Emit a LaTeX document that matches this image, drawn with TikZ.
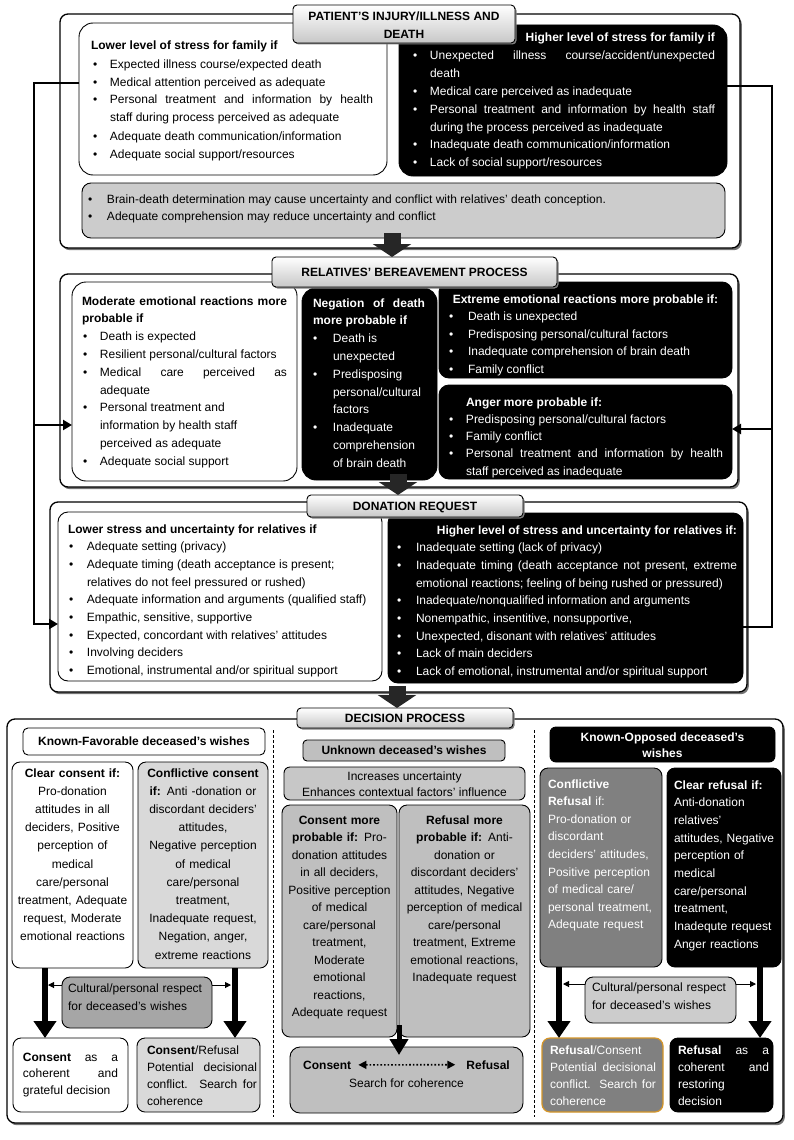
\documentclass[tikz,border=0pt]{standalone}
\usepackage{fontspec}
\setmainfont{Liberation Sans}
\usetikzlibrary{arrows.meta,shadows,calc}
\setlength{\parindent}{0pt}
\newlength\bhang \newlength\boff
\newcommand{\bli}[1]{\hangindent=\bhang\hangafter=1\noindent\makebox[\bhang][l]{\hspace{\boff}\textbullet}#1\par}
\newcommand{\ST}{\rule{0pt}{9pt}}
\newcommand{\bset}[2]{\setlength\boff{#1pt}\setlength\bhang{#2pt}}
\newcommand{\boxat}[7]{%
  \pgfmathsetmacro{\bxw}{#5-#3}%
  \pgfmathsetmacro{\bxh}{#6-#4}%
  \node[#1, anchor=north west, minimum width=\bxw pt, minimum height=\bxh pt, inner sep=0pt, outer sep=0pt] (#2) at (#3,#4) {#7};}
\definecolor{orangeb}{RGB}{214,150,40}
\tikzset{
  fs/.style={font=\fontsize{12}{#1}\selectfont},
  frame/.style={draw, line width=1.3pt, fill=white, rounded corners=8pt,
    drop shadow={shadow xshift=1.8pt, shadow yshift=-2.2pt, fill=black!55, opacity=1}},
  tab/.style={draw, line width=0.9pt, rounded corners=4pt, top color=white, bottom color=black!22,
    drop shadow={shadow xshift=1.5pt, shadow yshift=-1.5pt, fill=black!50, opacity=1}},
  rb/.style={draw, line width=0.9pt, rounded corners=#1},
  rb/.default=10pt,
  txt/.style={inner sep=0pt, outer sep=0pt, anchor=north west, align=justify, fs=18},
  ltxt/.style={inner sep=0pt, outer sep=0pt, anchor=north west, align=left, fs=18},
  ctxt/.style={inner sep=0pt, outer sep=0pt, anchor=north, align=center, fs=18},
  wt/.style={text=white},
  blk/.style={line width=17pt, draw=black!85, -{Triangle[width=38pt,length=13pt]}},
  thk/.style={line width=6pt, -{Triangle[width=22pt,length=17pt]}},
  sm/.style={line width=1pt, -{Triangle[width=6pt,length=6pt]}},
  fb/.style={line width=2.6pt},
  fba/.style={fb, -{Triangle[width=10pt,length=9pt]}}
}
\begin{document}
\begin{tikzpicture}[x=1pt,y=-1pt]
\useasboundingbox (0,0) rectangle (794,1140);
\fill[white] (0,0) rectangle (794,1140);

% ---------------- Section 1
\boxat{frame}{S1}{60}{14}{740}{248}{}
\boxat{rb=14pt, fill=white}{L1}{79}{23}{387}{175}{}
\boxat{rb=14pt, fill=black}{R1}{399}{25}{727}{176}{}
\boxat{rb=9pt, fill=black!20}{G1}{82}{183}{725}{238}{}
\boxat{tab}{T1}{293}{5}{515}{43}{}
\node[ctxt] (T1t) at (404,12) {\ST\textbf{PATIENT'S INJURY/ILLNESS AND}\\\textbf{DEATH}};
\node[txt, text width=282pt] (L1t) at (91,41) {\bset{2}{19}\ST\textbf{Lower level of stress for family if}\par
\bli{Expected illness course/expected death}
\bli{Medical attention perceived as adequate}
\bli{Personal treatment and information by health\linebreak staff during process perceived as adequate}
\bli{Adequate death communication/information}
\bli{Adequate social support/resources}};
\node[txt, wt, fs=17.8, text width=304pt] (R1t) at (411,33) {\bset{2}{19}\ST\hspace*{0pt plus 1filll}\textbf{Higher level of stress for family if}\par
\bli{Unexpected illness course/accident/unexpected\linebreak death}
\bli{Medical care perceived as inadequate}
\bli{Personal treatment and information by health staff\linebreak during the process perceived as inadequate}
\bli{Inadequate death communication/information}
\bli{Lack of social support/resources}};
\node[txt, fs=17, text width=630pt] (G1t) at (86,194) {\bset{2}{21}\ST\bli{Brain-death determination may cause uncertainty and conflict with relatives' death conception.}
\bli{Adequate comprehension may reduce uncertainty and conflict}};

% ---------------- Section 2
\boxat{frame}{S2}{60}{274}{738}{487}{}
\boxat{rb=14pt, fill=white}{M2}{72}{282}{297}{481}{}
\boxat{rb=14pt, fill=black}{N2}{302}{288}{437}{480}{}
\boxat{rb=10pt, fill=black}{E2}{439}{282}{732}{378}{}
\boxat{rb=10pt, fill=black}{A2}{439}{385}{732}{479}{}
\boxat{tab}{T2}{272}{257}{557}{287}{}
\node[ctxt] (T2t) at (414.5,267) {\ST\textbf{RELATIVES' BEREAVEMENT PROCESS}};
\node[txt, fs=17.8, text width=205pt] (M2t) at (82,296) {\bset{1}{18}\ST\textbf{Moderate emotional reactions more\linebreak probable if}\par
\bli{Death is expected}
\bli{Resilient personal/cultural factors}
\bli{Medical care perceived as\linebreak adequate}
\bli{Personal treatment and\newline information by health staff\newline perceived as adequate}
\bli{Adequate social support}};
\node[txt, wt, fs=17.8, text width=112pt] (N2t) at (313,298) {\bset{0}{20}\ST\textbf{Negation of death\linebreak more probable if}\par
\bli{Death is\newline unexpected}
\bli{Predisposing\newline personal/cultural\newline factors}
\bli{Inadequate\newline comprehension\newline of brain death}};
\node[txt, wt, fs=17.6, text width=273pt] (E2t) at (449,294) {\bset{0}{19}\ST\makebox[\hsize]{\textbf{Extreme emotional reactions more probable if:}}\par
\bli{Death is unexpected}
\bli{Predisposing personal/cultural factors}
\bli{Inadequate comprehension of brain death}
\bli{Family conflict}};
\node[txt, wt, fs=17.3, text width=274pt] (A2t) at (449,397) {\bset{0}{17}\ST\hspace*{17pt}\textbf{Anger more probable if:}\par
\bli{Predisposing personal/cultural factors}
\bli{Family conflict}
\bli{Personal treatment and information by health\linebreak staff perceived as inadequate}};

% ---------------- Section 3
\boxat{frame}{S3}{50}{502}{747}{692}{}
\boxat{rb=10pt, fill=white}{W3}{58}{512}{382}{681}{}
\boxat{rb=10pt, fill=black}{B3}{388}{513}{743}{683}{}
\boxat{tab}{T3}{307}{495}{523}{517}{}
\node[ctxt] (T3t) at (415,501.5) {\ST\textbf{DONATION REQUEST}};
\node[txt, fs=17.7, text width=305pt] (W3t) at (68,524) {\bset{1}{19}\ST\textbf{Lower stress and uncertainty for relatives if}\par
\bli{Adequate setting (privacy)}
\bli{Adequate timing (death acceptance is present;\newline relatives do not feel pressured or rushed)}
\bli{Adequate information and arguments (qualified staff)}
\bli{Empathic, sensitive, supportive}
\bli{Expected, concordant with relatives' attitudes}
\bli{Involving deciders}
\bli{Emotional, instrumental and/or spiritual support}};
\node[txt, wt, fs=17.7, text width=340pt] (B3t) at (397,525) {\bset{0}{19}\ST\hspace*{0pt plus 1filll}\textbf{Higher level of stress and uncertainty for relatives if:}\par
\bli{Inadequate setting (lack of privacy)}
\bli{Inadequate timing (death acceptance not present, extreme\linebreak emotional reactions; feeling of being rushed or pressured)}
\bli{Inadequate/nonqualified information and arguments}
\bli{Nonempathic, insentitive, nonsupportive,}
\bli{Unexpected, disonant with relatives' attitudes}
\bli{Lack of main deciders}
\bli{Lack of emotional, instrumental and/or spiritual support}};

% ---------------- Section 4
\boxat{frame}{S4}{7}{719}{783}{1123}{}
\boxat{tab}{T4}{297}{708}{513}{728}{}
\node[ctxt] (T4t) at (405,713) {\ST\textbf{DECISION PROCESS}};
\draw[line width=0.9pt, dash pattern=on 3pt off 2pt] (273,730) -- (273,1117);
\draw[line width=0.9pt, dash pattern=on 3pt off 2pt] (534,730) -- (534,1117);

% left column
\boxat{rb=5pt, fill=white, fs=18}{KF}{23}{728}{265}{755}{\textbf{Known-Favorable deceased's wishes}}
\boxat{rb=8pt, fill=white}{CC}{12}{762}{133}{968}{}
\boxat{rb=8pt, fill=black!15}{CF}{138}{762}{268}{968}{}
\boxat{rb=8pt, fill=black!35}{CL}{62}{977}{212}{1028}{}
\boxat{rb=8pt, fill=white}{CO}{13}{1038}{128}{1112}{}
\boxat{rb=8pt, fill=black!15}{CR}{137}{1038}{260}{1112}{}
\node[ctxt, fs=18.2, text width=121pt] (CCt) at (72.5,768) {\ST\textbf{Clear consent if:}\\Pro-donation\\attitudes in all\\deciders, Positive\\perception of\\medical\\care/personal\\treatment, Adequate\\request, Moderate\\emotional reactions};
\node[ctxt, fs=18.2, text width=128pt] (CFt) at (203,768) {\ST\textbf{Conflictive consent}\\\textbf{if:} Anti -donation or\\discordant deciders'\\attitudes,\\Negative perception\\of medical\\care/personal\\treatment,\\Inadequate request,\\Negation, anger,\\extreme reactions};
\node[ltxt, fs=18.5, text width=145pt] (CLt) at (68,983) {\ST Cultural/personal respect\\for deceased's wishes};
\node[txt, fs=16.8, text width=95pt] (COt) at (23,1052) {\ST\textbf{Consent} as a\linebreak coherent and\linebreak grateful decision};
\node[txt, fs=17, text width=110pt] (CRt) at (147,1045) {\ST\textbf{Consent}/Refusal\newline Potential decisional\linebreak conflict. Search for\linebreak coherence};

% middle column
\boxat{rb=4pt, fill=black!25, fs=18}{UW}{303}{740}{505}{761}{\textbf{Unknown deceased's wishes}}
\boxat{rb=6pt, fill=black!22}{IU}{284}{767}{525}{800}{}
\boxat{rb=8pt, fill=black!25}{CM}{282}{805}{397}{1037}{}
\boxat{rb=8pt, fill=black!25}{RM}{399}{805}{530}{1037}{}
\boxat{rb=10pt, fill=black!25}{SC}{290}{1047}{523}{1113}{}
\node[ctxt, fs=16] (IUt) at (404.5,771) {\ST Increases uncertainty\\Enhances contextual factors' influence};
\node[ctxt, fs=17.5, text width=113pt] (CMt) at (339.5,815) {\ST\textbf{Consent more}\\\textbf{probable if:} Pro-\\donation attitudes\\in all deciders,\\Positive perception\\of medical\\care/personal\\treatment,\\Moderate\\emotional\\reactions,\\Adequate request};
\node[ctxt, fs=17.5, text width=129pt] (RMt) at (464.5,815) {\ST\textbf{Refusal more}\\\textbf{probable if:} Anti-\\donation or\\discordant deciders'\\attitudes, Negative\\perception of medical\\care/personal\\treatment, Extreme\\emotional reactions,\\Inadequate request};
\node[inner sep=0pt, anchor=base west, fs=18] (SCa) at (303,1069) {\textbf{Consent}};
\node[inner sep=0pt, anchor=base east, fs=18] (SCb) at (510,1069) {\textbf{Refusal}};
\node[inner sep=0pt, anchor=base, fs=18] (SCc) at (406.5,1087) {Search for coherence};

% right column
\boxat{rb=6pt, fill=black}{KO}{550}{727}{775}{762}{}
\boxat{rb=8pt, fill=black!50}{CR2}{540}{768}{662}{967}{}
\boxat{rb=8pt, fill=black}{CB}{667}{768}{781}{967}{}
\boxat{rb=8pt, fill=black!20}{CL2}{585}{977}{736}{1023}{}
\boxat{rb=8pt, fill=black!50, draw=orangeb, line width=1.2pt}{RC}{542}{1038}{663}{1112}{}
\boxat{rb=8pt, fill=black}{RF}{670}{1038}{773}{1112}{}
\node[ctxt, wt, fs=16] (KOt) at (662.5,732) {\ST\textbf{Known-Opposed deceased's}\\\textbf{wishes}};
\node[ltxt, wt, fs=17.6, text width=112pt] (CR2t) at (548,779) {\ST\textbf{Conflictive}\\\textbf{Refusal} if:\\Pro-donation or\\discordant\\deciders' attitudes,\\Positive perception\\of medical care/\\personal treatment,\\Adequate request};
\node[ltxt, wt, fs=17.7, text width=106pt] (CBt) at (674,780) {\ST\textbf{Clear refusal if:}\\Anti-donation\\relatives'\\attitudes, Negative\\perception of\\medical\\care/personal\\treatment,\\Inadequte request\\Anger reactions};
\node[ltxt, fs=18, text width=140pt] (CL2t) at (592,982) {\ST Cultural/personal respect\\for deceased's wishes};
\node[txt, wt, fs=17.2, text width=106pt] (RCt) at (550,1045) {\ST\textbf{Refusal}/Consent\newline Potential decisional\linebreak conflict. Search for\linebreak coherence};
\node[txt, wt, fs=17.2, text width=91pt] (RFt) at (678,1045) {\ST\textbf{Refusal} as a\linebreak coherent and\linebreak restoring\newline decision};

% ---------------- connectors
\coordinate (a1) at (392,233);
\coordinate (a2) at (398,474);
\coordinate (a3) at (397,686);
\draw[blk] (a1) -- (a1 |- T2.north);
\draw[blk] (a2) -- (a2 |- T3.north);
\draw[blk] (a3) -- (a3 |- T4.north);

\coordinate (ax1) at (45,0);
\coordinate (ax2) at (235,0);
\coordinate (ax3) at (559,0);
\coordinate (ax4) at (760,0);
\draw[thk] (CC.south -| ax1) -- (CO.north -| ax1);
\draw[thk] (CF.south -| ax2) -- (CR.north -| ax2);
\draw[thk] (CR2.south -| ax3) -- (RC.north -| ax3);
\draw[thk] (CB.south -| ax4) -- (RF.north -| ax4);
\coordinate (mida) at (399,1025);
\draw[line width=5pt, -{Triangle[width=18pt,length=16pt]}] (mida) -- ($(SC.north -| mida)+(0,8)$);

\coordinate (sl1) at (48,985);
\coordinate (sl2) at (231,985);
\coordinate (sl3) at (563,984);
\coordinate (sl4) at (756,984);
\draw[sm] (CL.west |- sl1) -- (sl1);
\draw[sm] (CL.east |- sl2) -- (sl2);
\draw[sm] (CL2.west |- sl3) -- (sl3);
\draw[sm] (CL2.east |- sl4) -- (sl4);

\draw[line width=1.6pt, dotted, {Triangle[width=8pt,length=8pt]}-{Triangle[width=8pt,length=8pt]}] ([xshift=7pt]SCa.east) -- ([xshift=-11pt]SCb.west);

\coordinate (lf1) at (34,83);
\coordinate (lf2) at (34,624);
\coordinate (lf3) at (34,425);
\draw[fba] (L1.west |- lf1) -- (lf1) -- (lf2) -- (W3.west |- lf2);
\draw[fba] (lf3) -- (M2.west |- lf3);
\coordinate (rf1) at (772,86);
\coordinate (rf2) at (772,627);
\coordinate (rf3) at (772,429);
\draw[fb] (R1.east |- rf1) -- (rf1) -- (rf2) -- (B3.east |- rf2);
\draw[fba] (rf3) -- (A2.east |- rf3);
\end{tikzpicture}
\end{document}
